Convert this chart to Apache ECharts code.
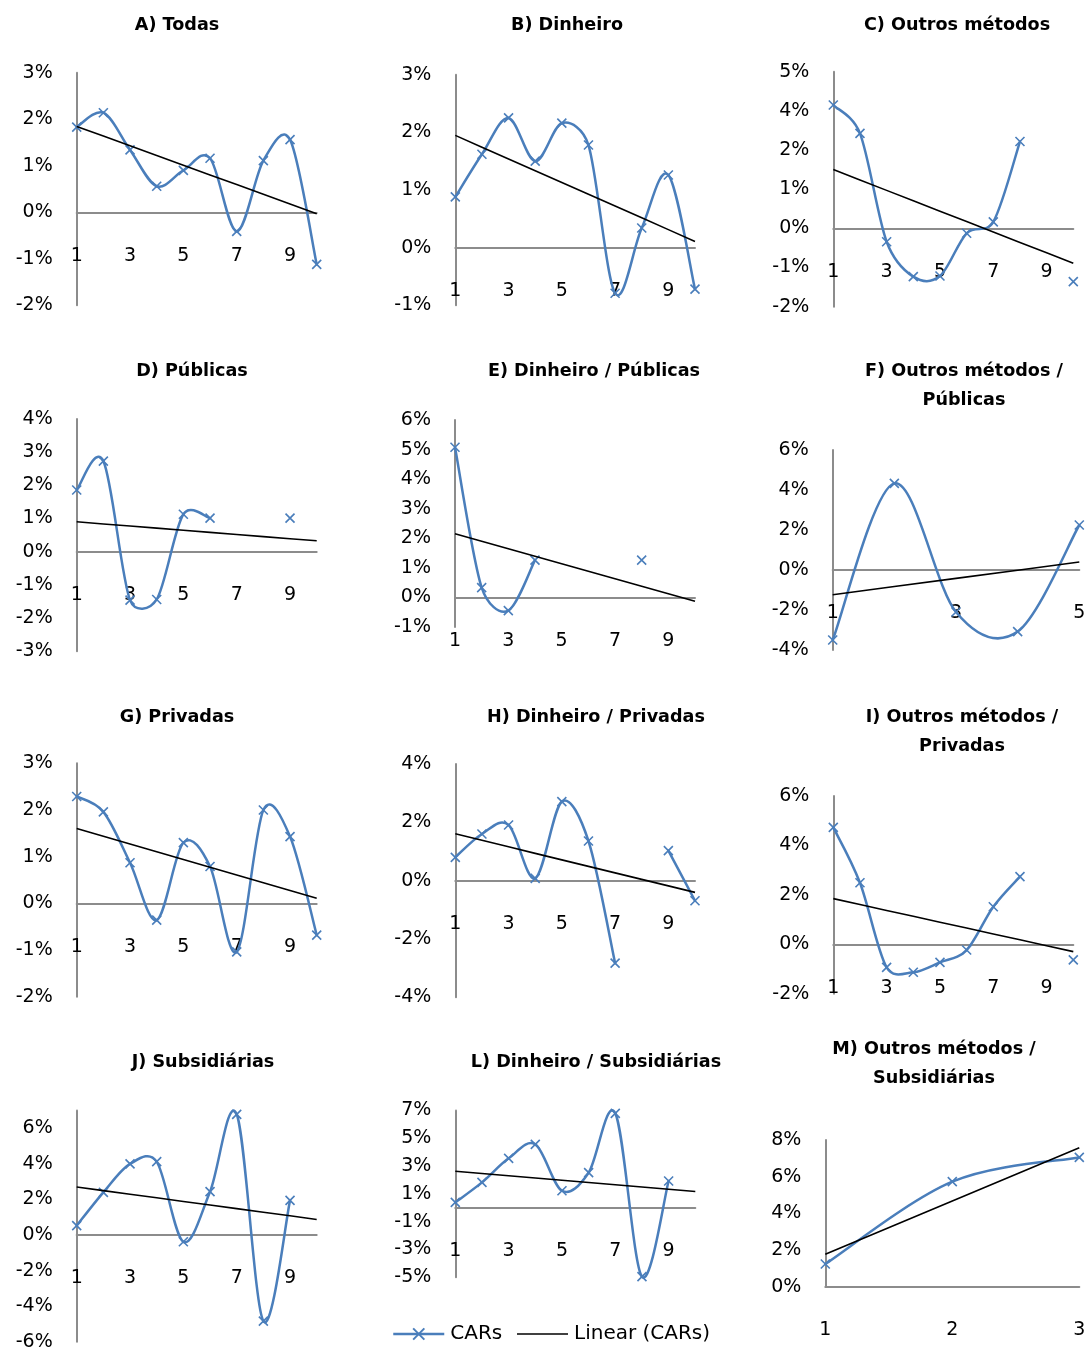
<!DOCTYPE html>
<html>
<head>
<meta charset="utf-8">
<script src="https://cdn.jsdelivr.net/npm/echarts@6/dist/echarts.min.js"></script>
<style>
  html, body { margin: 0; padding: 0; background: #ffffff; }
  #chart { width: 1088px; height: 1347px; }
</style>
</head>
<body>
<div id="chart"></div>
<script>
// Event-window positions
const catsTen = ['1', '2', '3', '4', '5', '6', '7', '8', '9', '10'];
const catsFive = ['1', '2', '3', '4', '5'];
const catsThree = ['1', '2', '3'];

// Cumulative abnormal returns (%), null = no observation
const carsTodas = [1.83, 2.14, 1.34, 0.56, 0.90, 1.16, -0.41, 1.11, 1.56, -1.12];
const carsDinheiro = [0.88, 1.62, 2.25, 1.50, 2.16, 1.78, -0.79, 0.34, 1.26, -0.72];
const carsOutros = [3.78, 2.91, -0.41, -1.48, -1.46, -0.15, 0.20, 2.66, null, -1.63];
const carsPublicas = [1.86, 2.73, -1.46, -1.44, 1.13, 1.01, null, null, 1.01, null];
const carsDinheiroPublicas = [5.08, 0.33, -0.45, 1.26, null, null, null, 1.26, null, null];
const carsOutrosPublicas = [-3.50, 4.33, -2.10, -3.08, 2.25];
const carsPrivadas = [2.29, 1.96, 0.87, -0.36, 1.30, 0.79, -1.04, 2.00, 1.43, -0.68];
const carsDinheiroPrivadas = [0.80, 1.60, 1.91, 0.08, 2.71, 1.36, -2.83, null, 1.03, -0.69];
const carsOutrosPrivadas = [4.73, 2.49, -0.93, -1.13, -0.73, -0.23, 1.52, 2.74, null, -0.63];
const carsSubsidiarias = [0.53, 2.40, 4.00, 4.13, -0.38, 2.44, 6.79, -4.84, 1.95, null];
const carsDinheiroSubsidiarias = [0.38, 1.82, 3.55, 4.56, 1.22, 2.52, 6.79, -4.96, 1.92, null];
const carsOutrosSubsidiarias = [1.24, 5.73, 7.05];

// Value-axis ticks per panel: [min, max, step] in %
const ticksTodas = [-2, 3, 1];
const ticksDinheiro = [-1, 3, 1];
const ticksOutros = [-2.4, 4.8, 1.2];
const ticksPublicas = [-3, 4, 1];
const ticksDinheiroPublicas = [-1, 6, 1];
const ticksOutrosPublicas = [-4, 6, 2];
const ticksPrivadas = [-2, 3, 1];
const ticksDinheiroPrivadas = [-4, 4, 2];
const ticksOutrosPrivadas = [-2, 6, 2];
const ticksSubsidiarias = [-6, 7, 2];
const ticksDinheiroSubsidiarias = [-5, 7, 2];
const ticksOutrosSubsidiarias = [0, 8, 2];

// Panel titles
const panelTitles = [
  'A) Todas', 'B) Dinheiro', 'C) Outros métodos',
  'D) Públicas', 'E) Dinheiro / Públicas', 'F) Outros métodos /\nPúblicas',
  'G) Privadas', 'H) Dinheiro / Privadas', 'I) Outros métodos /\nPrivadas',
  'J) Subsidiárias', 'L) Dinheiro / Subsidiárias', 'M) Outros métodos /\nSubsidiárias'
];

const legendNames = ['CARs', 'Linear (CARs)'];

// ---- page layout (pixels) ----
const panelGrids = [
  [76.7, 72.7, 240, 232.6], [455.3, 74.7, 239.7, 230.6], [833.3, 71.7, 240, 235],
  [76.7, 419, 240, 232.2], [455, 420.1, 240, 206.8], [832.7, 450, 246.6, 200],
  [76.7, 763.3, 240, 233.4], [455.3, 764, 239.7, 233.3], [833.3, 796, 240, 197.8],
  [76.7, 1110.6, 240, 231.1], [455.3, 1110.4, 240, 166.8], [825.3, 1140, 254, 146.7]
];
const titleCenters = [
  [177, 25], [567, 25], [957, 25],
  [192, 371], [594, 371], [964, 385.5],
  [177, 717], [596, 717], [962, 731.5],
  [203, 1062], [596, 1062], [934, 1063.5]
];

const panelData = [
  [catsTen, carsTodas, ticksTodas],
  [catsTen, carsDinheiro, ticksDinheiro],
  [catsTen, carsOutros, ticksOutros],
  [catsTen, carsPublicas, ticksPublicas],
  [catsTen, carsDinheiroPublicas, ticksDinheiroPublicas],
  [catsFive, carsOutrosPublicas, ticksOutrosPublicas],
  [catsTen, carsPrivadas, ticksPrivadas],
  [catsTen, carsDinheiroPrivadas, ticksDinheiroPrivadas],
  [catsTen, carsOutrosPrivadas, ticksOutrosPrivadas],
  [catsTen, carsSubsidiarias, ticksSubsidiarias],
  [catsTen, carsDinheiroSubsidiarias, ticksDinheiroSubsidiarias],
  [catsThree, carsOutrosSubsidiarias, ticksOutrosSubsidiarias]
];

const FONT = 'DejaVu Sans';
const BLUE = '#4a7ebb';
const AXIS_GREY = '#8c8c8c';
const CROSS = 'path://M0,0L10,10M10,0L0,10';
const TICK_FONT = 19;

// Least-squares trend over the observed points, evaluated on every category
function linearTrend(values) {
  const pts = [];
  values.forEach((v, i) => { if (v !== null) pts.push([i + 1, v]); });
  const n = pts.length;
  const mx = pts.reduce((s, p) => s + p[0], 0) / n;
  const my = pts.reduce((s, p) => s + p[1], 0) / n;
  let sxy = 0, sxx = 0;
  pts.forEach(p => { sxy += (p[0] - mx) * (p[1] - my); sxx += (p[0] - mx) * (p[0] - mx); });
  const slope = sxy / sxx;
  const icpt = my - slope * mx;
  return values.map((_, i) => +(icpt + slope * (i + 1)).toFixed(4));
}

// Control-point offset: one sixth of the neighbour chord, but never longer
// than half of the segment it belongs to.
function handle(chord, segLen) {
  const len = Math.hypot(chord[0], chord[1]);
  let f = 1 / 6;
  if (len * f > segLen * 0.5 && len > 0) f = segLen * 0.5 / len;
  return [chord[0] * f, chord[1] * f];
}

// Smoothed CAR curve: one cubic segment between each pair of observed
// neighbours, tangents taken from the surrounding points.
function renderSmooth(params, api) {
  const k = params.dataIndexInside;
  const n = params.dataInsideLength;
  const val = j => (j >= 0 && j < n) ? api.value(1, j) : NaN;
  const ok = j => Number.isFinite(val(j));
  if (!ok(k) || !ok(k + 1)) return null;
  const pt = j => api.coord([j, val(j)]);
  const p1 = pt(k), p2 = pt(k + 1);
  const p0 = ok(k - 1) ? pt(k - 1) : p1;
  const p3 = ok(k + 2) ? pt(k + 2) : p2;
  const seg = Math.hypot(p2[0] - p1[0], p2[1] - p1[1]);
  const h1 = handle([p2[0] - p0[0], p2[1] - p0[1]], seg);
  const h2 = handle([p3[0] - p1[0], p3[1] - p1[1]], seg);
  return {
    type: 'bezierCurve',
    shape: {
      x1: p1[0], y1: p1[1], x2: p2[0], y2: p2[1],
      cpx1: p1[0] + h1[0], cpy1: p1[1] + h1[1],
      cpx2: p2[0] - h2[0], cpy2: p2[1] - h2[1]
    },
    style: { stroke: BLUE, lineWidth: 2.5, fill: null, lineCap: 'round' }
  };
}

const grids = [], xAxes = [], yAxes = [], series = [], graphics = [];

panelData.forEach(([cats, cars, ticks], i) => {
  const g = panelGrids[i];
  grids.push({ left: g[0], top: g[1], width: g[2], height: g[3], containLabel: false, outerBoundsMode: 'none' });

  // category axis sits on the 0% level
  const zeroLift = g[3] * (0 - ticks[0]) / (ticks[1] - ticks[0]);
  xAxes.push({
    gridIndex: i, type: 'category', data: cats, boundaryGap: false,
    position: 'bottom', offset: -zeroLift,
    axisLine: { show: true, onZero: false, lineStyle: { color: AXIS_GREY, width: 2 } },
    axisTick: { show: false },
    splitLine: { show: false },
    axisLabel: {
      interval: cats.length > 3 ? 1 : 0, margin: 34,
      fontFamily: FONT, fontSize: TICK_FONT, color: '#000'
    }
  });

  const stepIsWhole = Number.isInteger(ticks[2]);
  yAxes.push({
    gridIndex: i, type: 'value', min: ticks[0], max: ticks[1], interval: ticks[2],
    axisLine: { show: true, onZero: false, lineStyle: { color: AXIS_GREY, width: 2 } },
    axisTick: { show: false },
    splitLine: { show: false },
    axisLabel: {
      margin: 24, fontFamily: FONT, fontSize: TICK_FONT, color: '#000',
      showMinLabel: true,
      showMaxLabel: ((ticks[1] - ticks[0]) / ticks[2]) % 1 === 0,
      formatter: v => (stepIsWhole ? v : Math.round(v)) + '%'
    }
  });

  // markers of the observed CARs
  series.push({
    name: legendNames[0], type: 'line', xAxisIndex: i, yAxisIndex: i,
    data: cars, connectNulls: false,
    symbol: CROSS, symbolSize: 9, showSymbol: true, showAllSymbol: true,
    lineStyle: { color: BLUE, width: 2.5, opacity: 0 },
    itemStyle: { color: BLUE, borderColor: BLUE, borderWidth: 1.6 },
    emphasis: { disabled: true }, z: 4
  });
  // smoothed curve through them
  series.push({
    name: legendNames[0], type: 'custom', xAxisIndex: i, yAxisIndex: i,
    data: cars.map((v, k) => [k, v]), encode: { x: 0, y: 1 },
    renderItem: renderSmooth, silent: true, z: 3
  });
  // linear trend
  series.push({
    name: legendNames[1], type: 'line', xAxisIndex: i, yAxisIndex: i,
    data: linearTrend(cars), smooth: false, symbol: 'none',
    lineStyle: { color: '#000', width: 1.6 },
    itemStyle: { color: '#000' },
    emphasis: { disabled: true }, z: 5
  });

  graphics.push({
    type: 'text', x: titleCenters[i][0], y: titleCenters[i][1], silent: true,
    style: {
      text: panelTitles[i], align: 'center', verticalAlign: 'middle',
      fontFamily: FONT, fontWeight: 'bold', fontSize: 17.6, lineHeight: 29, fill: '#000'
    }
  });
});

const chart = echarts.init(document.getElementById('chart'), null, { renderer: 'canvas' });
chart.setOption({
  animation: false,
  backgroundColor: '#ffffff',
  textStyle: { fontFamily: FONT },
  grid: grids,
  xAxis: xAxes,
  yAxis: yAxes,
  series: series,
  graphic: graphics,
  legend: {
    data: [
      { name: legendNames[0], lineStyle: { color: BLUE, width: 2.5, opacity: 1 } },
      { name: legendNames[1], itemStyle: { opacity: 0 }, lineStyle: { color: '#000', width: 1.6, opacity: 1 } }
    ],
    left: 392, top: 1324, orient: 'horizontal',
    itemWidth: 51, itemHeight: 14, itemGap: 14, padding: 0,
    textStyle: { fontFamily: FONT, fontSize: 20, color: '#000', padding: [0, 0, 0, 1] },
    selectedMode: false
  }
});
</script>
</body>
</html>
